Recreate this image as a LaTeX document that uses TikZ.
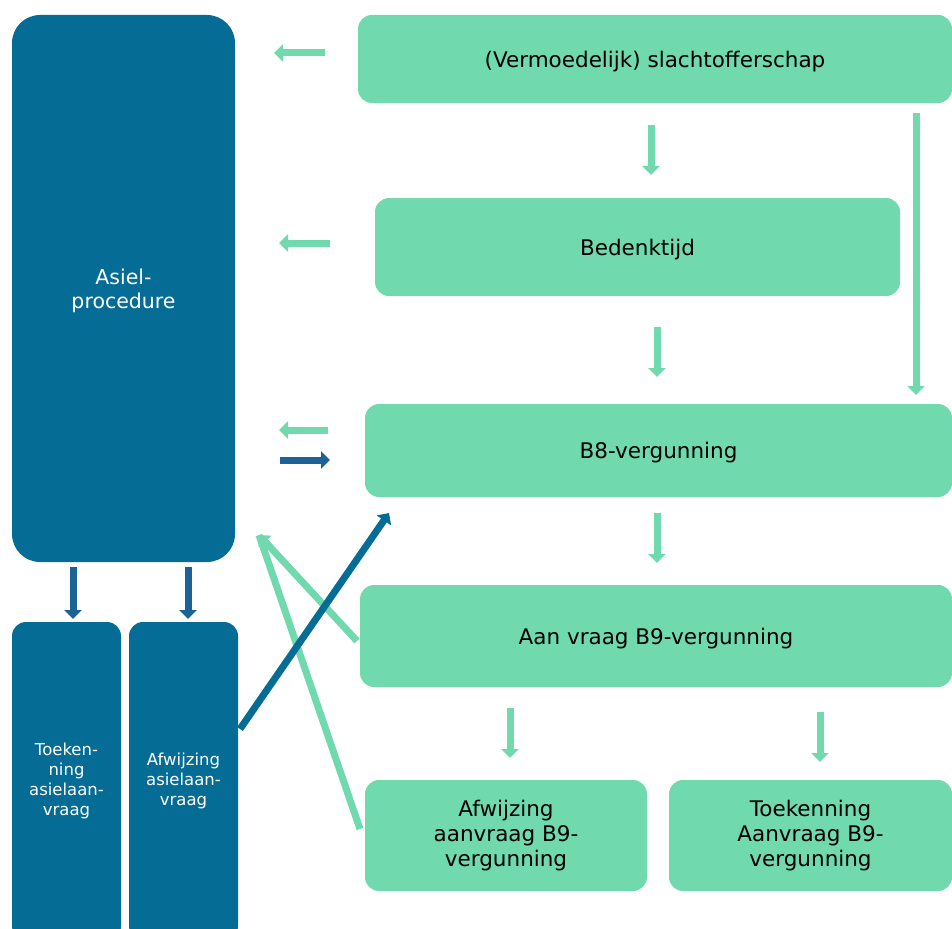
\documentclass[tikz,border=0pt]{standalone}
\usepackage{fontspec}
\setmainfont{DejaVu Sans}
\usetikzlibrary{arrows.meta}

\definecolor{asielblue}{HTML}{056D95}
\definecolor{arrowblue}{HTML}{1B6396}
\definecolor{stepgreen}{HTML}{70D9AE}

\tikzset{
  bluebox/.style={fill=asielblue, text=white, rounded corners=14pt, inner sep=0pt, align=center},
  greenbox/.style={fill=stepgreen, text=black, rounded corners=14pt, inner sep=0pt, align=center,
    font=\fontsize{21.5}{25}\selectfont},
  greenarrow/.style={draw=stepgreen, line width=7pt, -{Triangle[length=9pt, width=17pt]}},
  bluearrow/.style={draw=arrowblue, line width=7pt, -{Triangle[length=9pt, width=17pt]}},
  greenline/.style={draw=stepgreen, line width=7pt},
}

\begin{document}
\begin{tikzpicture}[x=1pt, y=-1pt]
  \useasboundingbox (0, 0) rectangle (952, 928);
  \clip (0, 0) rectangle (952, 928);

  % asielkant
  \node (asiel) at (123.5, 288.5) [bluebox, rounded corners=28pt, minimum width=223pt, minimum height=547pt,
    text depth=0pt, font=\fontsize{20.5}{24}\selectfont] {Asiel-\\procedure};
  \node (toek) at (66.5, 781) [bluebox, minimum width=109pt, minimum height=318pt,
    font=\fontsize{16.5}{20}\selectfont] {Toeken-\\ning\\asielaan-\\vraag};
  \node (afw) at (183.5, 781) [bluebox, minimum width=109pt, minimum height=318pt,
    font=\fontsize{16.5}{20}\selectfont] {Afwijzing\\asielaan-\\vraag};

  % slachtofferkant
  \node (slacht) at (655, 59) [greenbox, text depth=0pt, minimum width=594pt, minimum height=88pt] {(Vermoedelijk) slachtofferschap};
  \node (bedenk) at (637.5, 247) [greenbox, text depth=0pt, minimum width=525pt, minimum height=98pt] {Bedenktijd};
  \node (b8) at (658.5, 450.5) [greenbox, text depth=0pt, minimum width=587pt, minimum height=93pt] {B8-vergunning};
  \node (b9) at (656, 636) [greenbox, text depth=0pt, minimum width=592pt, minimum height=102pt] {Aan vraag B9-vergunning};
  \node (afwb9) at (506, 835.5) [greenbox, minimum width=282pt, minimum height=111pt] {Afwijzing\\aanvraag B9-\\vergunning};
  \node (toekb9) at (810.5, 835.5) [greenbox, minimum width=283pt, minimum height=111pt] {Toekenning\\Aanvraag B9-\\vergunning};

  % losse pijlen
  \coordinate (s1) at (325, 53);    \coordinate (e1) at (274, 53);
  \coordinate (s2) at (330, 243);   \coordinate (e2) at (279, 243);
  \coordinate (s3) at (328, 430);   \coordinate (e3) at (279, 430);
  \coordinate (s4) at (280, 460);   \coordinate (e4) at (330, 460);
  \coordinate (s5) at (651, 125);   \coordinate (e5) at (651, 175);
  \coordinate (s6) at (657, 327);   \coordinate (e6) at (657, 377);
  \coordinate (s7) at (657, 513);   \coordinate (e7) at (657, 563);
  \coordinate (s8) at (510, 708);   \coordinate (e8) at (510, 758);
  \coordinate (s9) at (820, 712);   \coordinate (e9) at (820, 762);
  \coordinate (s10) at (916, 113);  \coordinate (e10) at (916, 395);
  \coordinate (s11) at (73, 567);   \coordinate (e11) at (73, 619);
  \coordinate (s12) at (188, 567);  \coordinate (e12) at (188, 619);
  \coordinate (s13) at (240, 729);  \coordinate (e13) at (389, 513);
  \coordinate (s14) at (357, 641);  \coordinate (tip) at (259, 535);
  \coordinate (s15) at (360, 829);

  \draw[greenarrow] (s1) -- (e1);
  \draw[greenarrow] (s2) -- (e2);
  \draw[greenarrow] (s3) -- (e3);
  \draw[bluearrow] (s4) -- (e4);
  \draw[greenarrow] (s5) -- (e5);
  \draw[greenarrow] (s6) -- (e6);
  \draw[greenarrow] (s7) -- (e7);
  \draw[greenarrow] (s8) -- (e8);
  \draw[greenarrow] (s9) -- (e9);
  \draw[greenarrow] (s10) -- (e10);
  \draw[bluearrow] (s11) -- (e11);
  \draw[bluearrow] (s12) -- (e12);
  \draw[greenline] (s15) -- (tip);
  \draw[greenarrow] (s14) -- (tip);
  \draw[bluearrow, draw=asielblue] (s13) -- (e13);
\end{tikzpicture}
\end{document}
